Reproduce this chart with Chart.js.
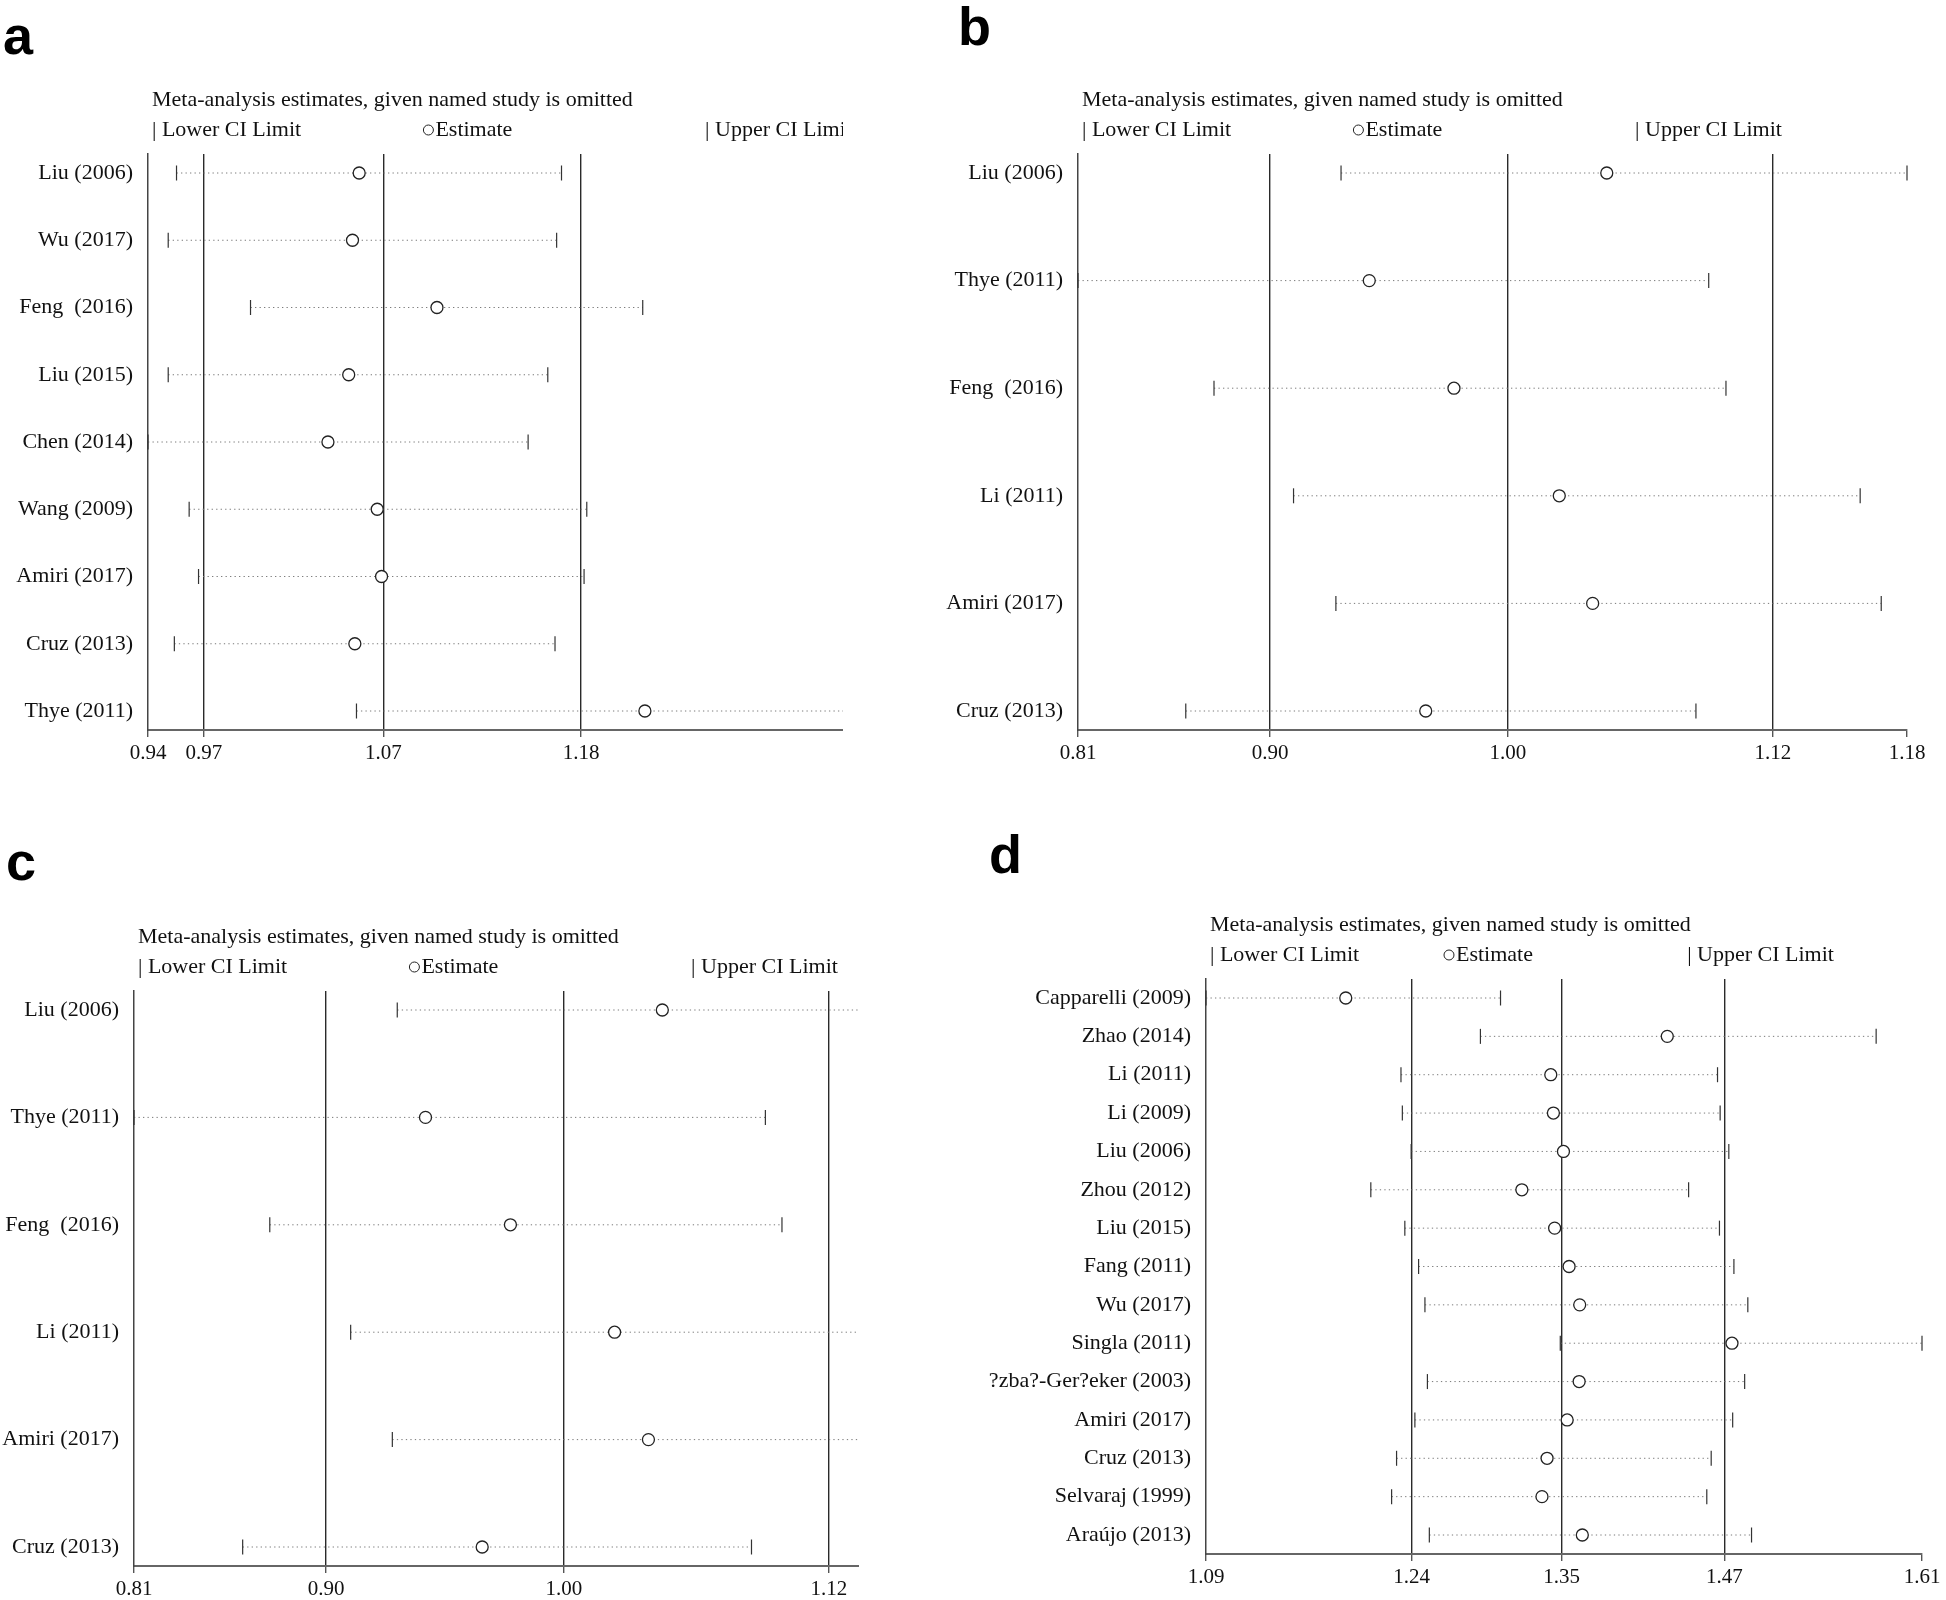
<!DOCTYPE html>
<html>
<head>
<meta charset="utf-8">
<script src="https://cdn.jsdelivr.net/npm/chart.js@4.4.0/dist/chart.umd.min.js"></script>
<style>
  html, body { margin: 0; padding: 0; background: #fff; overflow: hidden; }
  body { width: 1946px; height: 1600px; position: relative; }
  .panel { position: absolute; overflow: hidden; }
  .panel canvas { position: absolute; left: 0; top: 0; }
  .tag { position: absolute; font: bold 54px "Liberation Sans", Arial, sans-serif; color: #000; line-height: 1; }
</style>
</head>
<body>
<div class="tag" style="left:3px;top:8px">a</div>
<div class="tag" style="left:958px;top:-1px">b</div>
<div class="tag" style="left:6px;top:834px">c</div>
<div class="tag" style="left:989px;top:827px">d</div>

<div class="panel" id="boxA"><canvas id="chartA"></canvas></div>
<div class="panel" id="boxB"><canvas id="chartB"></canvas></div>
<div class="panel" id="boxC"><canvas id="chartC"></canvas></div>
<div class="panel" id="boxD"><canvas id="chartD"></canvas></div>

<script>
// panel a
const studiesA = ['Liu (2006)', 'Wu (2017)', 'Feng  (2016)', 'Liu (2015)', 'Chen (2014)', 'Wang (2009)', 'Amiri (2017)', 'Cruz (2013)', 'Thye (2011)'];
const lowerA = [0.9558, 0.9512, 0.9968, 0.9512, 0.9400, 0.9628, 0.9680, 0.9546, 1.0555];
const estA = [1.0570, 1.0533, 1.1001, 1.0512, 1.0397, 1.0670, 1.0694, 1.0546, 1.2153];
const upperA = [1.1691, 1.1664, 1.2141, 1.1615, 1.1506, 1.1831, 1.1816, 1.1655, 1.3993];
const ticksA = [0.94, 0.971, 1.0704, 1.18, 1.3993];
const tickLabelsA = ['0.94', '0.97', '1.07', '1.18', '1.40'];

// panel b
const studiesB = ['Liu (2006)', 'Thye (2011)', 'Feng  (2016)', 'Li (2011)', 'Amiri (2017)', 'Cruz (2013)'];
const lowerB = [0.9274, 0.8100, 0.8707, 0.9062, 0.9251, 0.8581];
const estB = [1.0460, 0.9400, 0.9778, 1.0248, 1.0397, 0.9652];
const upperB = [1.1800, 1.0915, 1.0992, 1.1591, 1.1685, 1.0858];
const ticksB = [0.81, 0.8957, 1.0019, 1.1201, 1.18];
const tickLabelsB = ['0.81', '0.90', '1.00', '1.12', '1.18'];

// panel c: same estimates as b, figure cropped on the right
const studiesC = ['Liu (2006)', 'Thye (2011)', 'Feng  (2016)', 'Li (2011)', 'Amiri (2017)', 'Cruz (2013)'];
const lowerC = [0.9275, 0.8100, 0.8706, 0.9067, 0.9253, 0.8585];
const estC = [1.0458, 0.9401, 0.9780, 1.0245, 1.0396, 0.9654];
const upperC = [1.1800, 1.0918, 1.0992, 1.1591, 1.1685, 1.0856];
const ticksC = [0.81, 0.8957, 1.0019, 1.1201, 1.18];
const tickLabelsC = ['0.81', '0.90', '1.00', '1.12', '1.18'];

// panel d
const studiesD = ['Capparelli (2009)', 'Zhao (2014)', 'Li (2011)', 'Li (2009)', 'Liu (2006)', 'Zhou (2012)', 'Liu (2015)', 'Fang (2011)', 'Wu (2017)', 'Singla (2011)', '?zba?-Ger?eker (2003)', 'Amiri (2017)', 'Cruz (2013)', 'Selvaraj (1999)', 'Araújo (2013)'];
const lowerD = [1.0900, 1.2893, 1.2316, 1.2326, 1.2390, 1.2097, 1.2344, 1.2444, 1.2490, 1.3473, 1.2508, 1.2417, 1.2284, 1.2248, 1.2522];
const estD = [1.1915, 1.4250, 1.3404, 1.3423, 1.3496, 1.3194, 1.3432, 1.3537, 1.3614, 1.4720, 1.3610, 1.3523, 1.3377, 1.3340, 1.3633];
const upperD = [1.3039, 1.5767, 1.4615, 1.4634, 1.4697, 1.4405, 1.4629, 1.4734, 1.4835, 1.6100, 1.4812, 1.4725, 1.4569, 1.4537, 1.4862];
const ticksD = [1.09, 1.2394, 1.3482, 1.4665, 1.61];
const tickLabelsD = ['1.09', '1.24', '1.35', '1.47', '1.61'];

const TITLE = 'Meta-analysis estimates, given named study is omitted';
const SERIF = '"Liberation Serif", "Times New Roman", serif';
const Y_W = 220;      // width reserved for study names
const PAD_TOP = 70;   // room for the title lines
const PAD_RIGHT = 28;
const X_H = 50;

Chart.defaults.font.family = SERIF;
Chart.defaults.color = '#111';

const headerPlugin = {
  id: 'header',
  afterDraw(chart) {
    const { ctx, chartArea: a } = chart;
    const w = a.right - a.left;
    const y = a.top - 24;
    ctx.save();
    ctx.font = '22px ' + SERIF;
    ctx.fillStyle = '#111';
    ctx.textBaseline = 'middle';
    ctx.textAlign = 'left';
    ctx.fillText(TITLE, a.left + 4, a.top - 54);
    ctx.fillText('| Lower CI Limit', a.left + 4, y);
    const ex = a.left + w * 0.331;
    ctx.beginPath();
    ctx.arc(ex + 6, y, 5, 0, Math.PI * 2);
    ctx.lineWidth = 1;
    ctx.strokeStyle = '#222';
    ctx.stroke();
    ctx.fillText('Estimate', ex + 13, y);
    ctx.fillText('| Upper CI Limit', a.left + w * 0.672, y);
    ctx.restore();
  }
};

function makePanel(key, studies, lower, est, upper, ticks, tickLabels, box) {
  const n = studies.length;
  const pad = 19 * (n - 1) / (box.plotH - 38);
  const cw = Y_W + box.plotW + PAD_RIGHT;
  const ch = PAD_TOP + box.plotH + X_H;

  const div = document.getElementById('box' + key);
  div.style.left = (box.x0 - Y_W) + 'px';
  div.style.top = (box.top - PAD_TOP) + 'px';
  div.style.width = (box.visibleRight ? box.visibleRight - (box.x0 - Y_W) : cw) + 'px';
  div.style.height = ch + 'px';

  const canvas = document.getElementById('chart' + key);
  canvas.width = cw;
  canvas.height = ch;
  canvas.style.width = cw + 'px';
  canvas.style.height = ch + 'px';

  const ciLines = studies.map((s, i) => ({
    label: s,
    data: [{ x: lower[i], y: i }, { x: upper[i], y: i }],
    showLine: true,
    borderColor: '#7a7a7a',
    borderWidth: 1,
    borderDash: [1.3, 3.2],
    pointRadius: 0,
    order: 3
  }));

  const caps = {
    label: 'limits',
    data: lower.map((v, i) => ({ x: v, y: i })).concat(upper.map((v, i) => ({ x: v, y: i }))),
    pointStyle: 'line',
    pointRotation: 90,
    pointRadius: 7.5,
    pointBorderColor: '#333',
    pointBorderWidth: 1.2,
    clip: false,
    order: 2
  };

  const estimates = {
    label: 'Estimate',
    data: est.map((v, i) => ({ x: v, y: i })),
    pointStyle: 'circle',
    pointRadius: 6,
    pointBackgroundColor: '#fff',
    pointBorderColor: '#222',
    pointBorderWidth: 1.3,
    clip: false,
    order: 1
  };

  return new Chart(canvas, {
    type: 'scatter',
    data: { datasets: [estimates, caps, ...ciLines] },
    plugins: [headerPlugin],
    options: {
      responsive: false,
      animation: false,
      events: [],
      layout: { padding: { top: PAD_TOP, right: PAD_RIGHT, left: 0, bottom: 0 } },
      plugins: { legend: { display: false }, tooltip: { enabled: false } },
      scales: {
        x: {
          type: 'linear',
          min: ticks[0],
          max: ticks[ticks.length - 1],
          afterBuildTicks: scale => { scale.ticks = ticks.map(v => ({ value: v })); },
          afterFit: scale => { scale.height = X_H; },
          ticks: {
            autoSkip: false,
            maxRotation: 0,
            padding: 4,
            font: { size: 21 },
            color: '#111',
            callback: (v, i) => tickLabels[i]
          },
          grid: {
            drawOnChartArea: true,
            color: c => (c.index > 0 && c.index < ticks.length - 1) ? '#2a2a2a' : 'rgba(0,0,0,0)',
            tickColor: '#555',
            tickLength: 7,
            lineWidth: 1.4
          },
          border: { display: true, color: '#666', width: 2 }
        },
        y: {
          type: 'linear',
          reverse: true,
          min: -pad,
          max: n - 1 + pad,
          afterBuildTicks: scale => { scale.ticks = studies.map((s, i) => ({ value: i })); },
          afterFit: scale => { scale.width = Y_W; },
          ticks: {
            autoSkip: false,
            padding: 15,
            font: { size: 22 },
            color: '#111',
            callback: v => studies[v]
          },
          grid: { display: false, drawTicks: false },
          border: { display: true, color: '#444', width: 1.5 }
        }
      }
    }
  });
}

makePanel('A', studiesA, lowerA, estA, upperA, ticksA, tickLabelsA,
  { x0: 148, top: 154, plotW: 829, plotH: 576, visibleRight: 843 });
makePanel('B', studiesB, lowerB, estB, upperB, ticksB, tickLabelsB,
  { x0: 1078, top: 154, plotW: 829, plotH: 576 });
makePanel('C', studiesC, lowerC, estC, upperC, ticksC, tickLabelsC,
  { x0: 134, top: 991, plotW: 829, plotH: 575, visibleRight: 859 });
makePanel('D', studiesD, lowerD, estD, upperD, ticksD, tickLabelsD,
  { x0: 1206, top: 979, plotW: 716, plotH: 575 });
</script>
</body>
</html>
